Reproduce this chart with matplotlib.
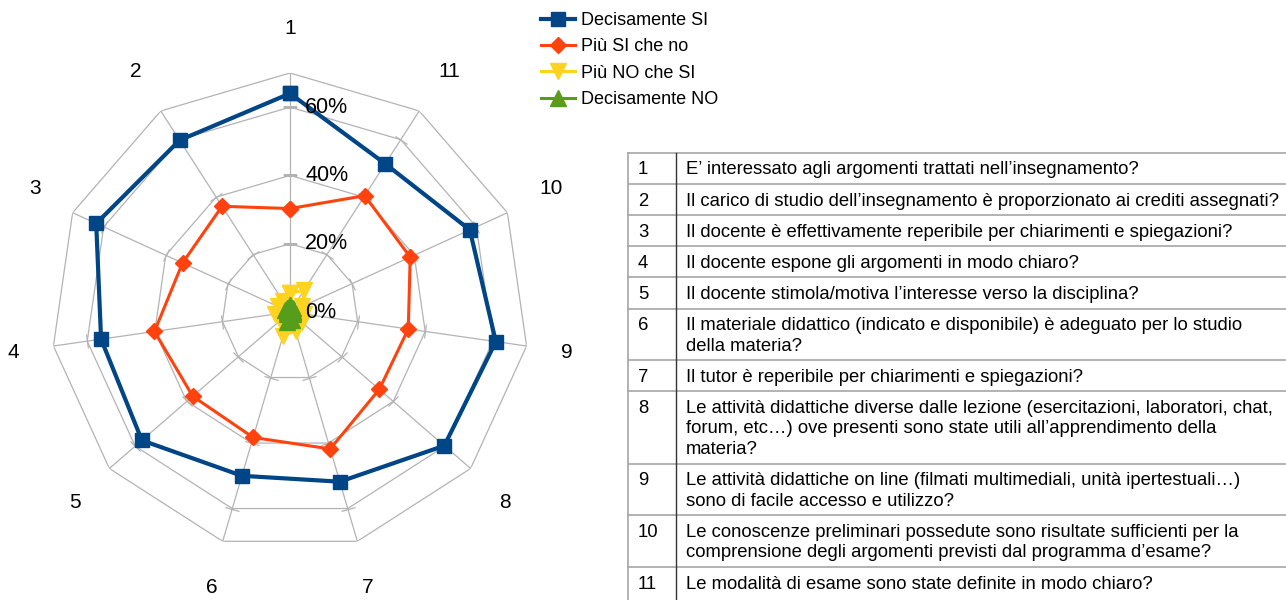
import numpy as np
import matplotlib
matplotlib.use('Agg')
import matplotlib.pyplot as plt
from matplotlib.markers import MarkerStyle
from matplotlib.transforms import Affine2D

plt.rcParams['font.family'] = ['Liberation Sans', 'DejaVu Sans']

# ---------------- data ----------------
categories = ['1', '2', '3', '4', '5', '6', '7', '8', '9', '10', '11']
decisamente_si = [64.0, 59.8, 62.4, 55.9, 57.4, 50.0, 51.8, 59.8, 60.9, 57.9, 51.6]
piu_si_che_no = [30.3, 36.8, 34.6, 40.1, 37.7, 38.3, 41.8, 34.6, 35.0, 38.7, 40.5]
piu_no_che_si = [5.5, 4.0, 4.0, 4.4, 3.8, 7.2, 5.8, 4.6, 4.0, 4.0, 7.5]
decisamente_no = [2.0, 1.5, 1.5, 1.0, 1.0, 3.0, 2.5, 1.0, 1.0, 1.0, 1.5]
series_names = ['Decisamente SI', 'Più SI che no', 'Più NO che SI', 'Decisamente NO']
radial_ticks = [0, 20, 40, 60]
radial_tick_labels = ['0%', '20%', '40%', '60%']
grid_rings = [20, 40, 60, 70]
radial_max = 70

question_numbers = ['1', '2', '3', '4', '5', '6', '7', '8', '9', '10', '11']
question_lines = [
    ['E’ interessato agli argomenti trattati nell’insegnamento?'],
    ['Il carico di studio dell’insegnamento è proporzionato ai crediti assegnati?'],
    ['Il docente è effettivamente reperibile per chiarimenti e spiegazioni?'],
    ['Il docente espone gli argomenti in modo chiaro?'],
    ['Il docente stimola/motiva l’interesse verso la disciplina?'],
    ['Il materiale didattico (indicato e disponibile) è adeguato per lo studio',
     'della materia?'],
    ['Il tutor è reperibile per chiarimenti e spiegazioni?'],
    ['Le attività didattiche diverse dalle lezione (esercitazioni, laboratori, chat,',
     'forum, etc…) ove presenti sono state utili all’apprendimento della',
     'materia?'],
    ['Le attività didattiche on line (filmati multimediali, unità ipertestuali…)',
     'sono di facile accesso e utilizzo?'],
    ['Le conoscenze preliminari possedute sono risultate sufficienti per la',
     'comprensione degli argomenti previsti dal programma d’esame?'],
    ['Le modalità di esame sono state definite in modo chiaro?'],
]

colors = ['#004586', '#ff420e', '#ffd320', '#579d1c']
markers = ['s', 'D', 'v', '^']
msizes = [10, 8, 12, 12]
lwidths = [3.0, 2.2, 2.2, 2.2]
grid_color = '#b3b3b3'

# ---------------- figure ----------------
W, H = 1286, 600
fig = plt.figure(figsize=(W / 100, H / 100), dpi=100)

cx, cy, R = 290, 312, 239  # pixel centre and outer radius
ax = fig.add_axes([(cx - R) / W, (H - cy - R) / H, 2 * R / W, 2 * R / H], projection='polar')
ax.set_theta_offset(np.pi / 2)
ax.set_theta_direction(1)
ax.set_ylim(0, radial_max)
ax.grid(False)
ax.spines['polar'].set_visible(False)
ax.set_xticks([])
ax.set_yticks([])
ax.patch.set_alpha(0)

n = len(categories)
theta = np.arange(n) * 2 * np.pi / n
theta_c = np.append(theta, theta[0])

# polygon grid
for r in grid_rings:
    ax.plot(theta_c, [r] * (n + 1), color=grid_color, lw=0.9, zorder=1)
for t in theta:
    ax.plot([t, t], [0, radial_max], color=grid_color, lw=0.9, zorder=1)
# small tick marks on spokes
for t in theta:
    ms_t = MarkerStyle('_', transform=Affine2D().rotate_deg(np.degrees(t)))
    ax.plot([t] * 3, [20, 40, 60], linestyle='none', marker=ms_t, markersize=10,
            markeredgecolor=grid_color, markeredgewidth=0.9, zorder=1)

# series
all_series = [decisamente_si, piu_si_che_no, piu_no_che_si, decisamente_no]
handles = []
for vals, name, c, m, ms, lw in zip(all_series, series_names, colors, markers, msizes, lwidths):
    v = np.append(vals, vals[0])
    ln, = ax.plot(theta_c, v, color=c, lw=lw, marker=m, markersize=ms,
                  markerfacecolor=c, markeredgecolor=c, zorder=3, label=name, clip_on=False)
    handles.append(ln)

# category labels: anchored outside the outer ring, aligned by direction
for t, lab in zip(theta, categories):
    dx = -np.sin(t)   # screen direction (theta measured from top, counter-clockwise)
    dy = np.cos(t)    # positive = up
    ha = 'center' if abs(dx) < 0.3 else ('left' if dx > 0 else 'right')
    if abs(dy) < 0.3:
        va, gap = 'center_baseline', 35
    elif dy > 0:
        va, gap = 'bottom', 35
    else:
        va, gap = 'top', 38
    ax.text(t, radial_max * (R + gap) / R, lab, ha=ha, va=va, fontsize=15, color='black')

# radial labels
for r, lab in zip(radial_ticks, radial_tick_labels):
    ax.annotate(lab, xy=(0, r), xytext=(15, 0), textcoords='offset pixels',
                ha='left', va='center', fontsize=15.5, color='black', zorder=4)

# legend
fig.legend(handles=handles, labels=series_names, loc='upper left',
           bbox_to_anchor=(541 / W, 1 - 12 / H), frameon=False, fontsize=13,
           borderaxespad=0, borderpad=0, handlelength=1.9, handletextpad=0.3,
           labelspacing=0.52)

# ---------------- table ----------------
tab = fig.add_axes([0, 0, 1, 1])
tab.set_xlim(0, W)
tab.set_ylim(H, 0)
tab.axis('off')

x_left, x_sep, x_right = 628, 676, W
row_top = 153
line_h = 20.6
fs_tab = 13.35
line_col = '#a6a6a6'
tab.plot([x_left, x_right], [row_top, row_top], color=line_col, lw=1.2)
y = row_top
for i, (num, lines) in enumerate(zip(question_numbers, question_lines)):
    h = 10.5 + line_h * len(lines)
    tab.text(638, y + 21.5, num, ha='left', va='baseline', fontsize=fs_tab, color='black')
    for k, txt in enumerate(lines):
        tab.text(686, y + 21.5 + k * line_h, txt, ha='left', va='baseline', fontsize=fs_tab,
                 color='black')
    y2 = y + h
    if i < len(question_numbers) - 1:
        tab.plot([x_left, x_right], [y2, y2], color=line_col, lw=1.2)
    y = y2
tab.plot([x_left, x_left], [row_top, H], color=line_col, lw=1.2)
tab.plot([x_sep, x_sep], [row_top, H], color='#333333', lw=1.0)

fig.savefig('out.png', dpi=100)
